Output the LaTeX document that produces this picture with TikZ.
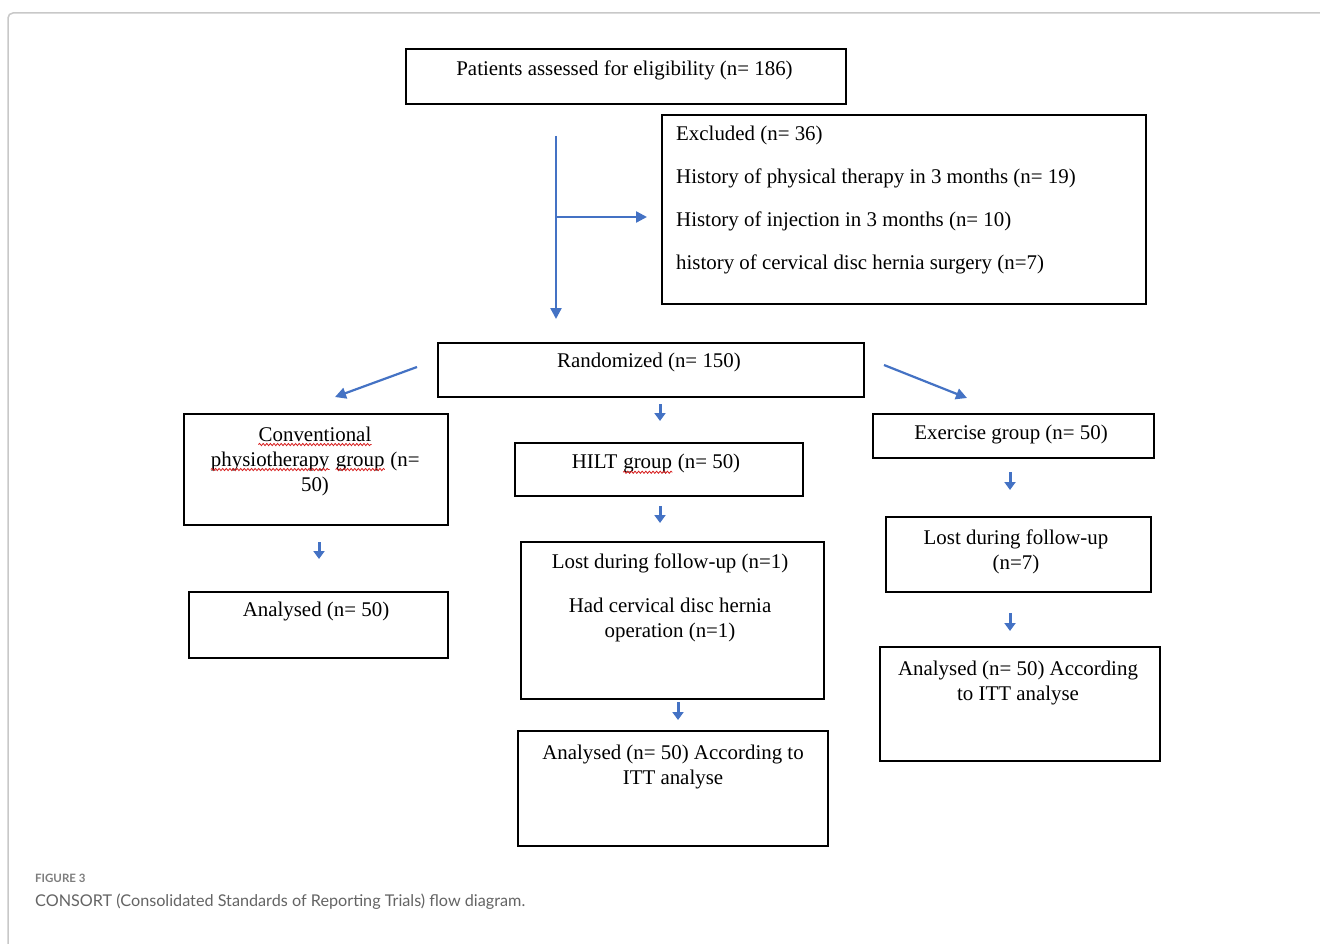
\documentclass[tikz,border=0pt]{standalone}
\usepackage{fontspec}
\setmainfont{Liberation Serif}
\newfontfamily\capfont{Lato}
\usetikzlibrary{arrows.meta,decorations.pathmorphing}
\definecolor{arrowblue}{RGB}{68,114,196}
\definecolor{framegray}{RGB}{200,200,200}
\definecolor{capgray}{RGB}{100,100,100}
\definecolor{figgray}{RGB}{125,125,125}
\definecolor{wavered}{RGB}{215,30,30}
\newcommand\redwave[1]{\tikz[baseline=0pt,x=1pt,y=1pt]{\node[inner sep=0pt,anchor=base west] (rwnode) at (0,0) {#1};
\draw[wavered, line width=0.8pt, decorate, decoration={snake, amplitude=1.1pt, segment length=3.6pt}] ([yshift=-3.5pt]rwnode.base west) -- ([yshift=-3.5pt]rwnode.base east);}}
\begin{document}
\begin{tikzpicture}[x=1pt,y=-1pt,
  box/.style={draw=black, line width=1.7pt, anchor=north west, inner sep=0pt},
  txt/.style={font=\fontsize{20.9}{25}\selectfont, inner sep=0pt, align=center},
  flow/.style={draw=arrowblue, line width=2.4pt, -{Triangle[length=11pt,width=11pt]}},
  tiny/.style={draw=arrowblue, line width=3pt, -{Triangle[length=8pt,width=11pt]}},
]
\useasboundingbox (0,0) rectangle (1320,944);
\fill[white] (0,0) rectangle (1320,944);
\draw[framegray, line width=1.5pt, rounded corners=5pt] (8,960) -- (8,13) -- (1330,13);

% boxes
\node[box, minimum width=440pt, minimum height=55pt] (p) at (405,48) {};
\node[box, minimum width=484pt, minimum height=189pt] (ex) at (661,114) {};
\node[box, minimum width=426pt, minimum height=54pt] (r) at (437,342) {};
\node[box, minimum width=264pt, minimum height=111pt] (cv) at (183,413) {};
\node[box, minimum width=259pt, minimum height=66pt] (al) at (188,591) {};
\node[box, minimum width=288pt, minimum height=53pt] (hg) at (514,442) {};
\node[box, minimum width=303pt, minimum height=157pt] (hl) at (520,541) {};
\node[box, minimum width=310pt, minimum height=115pt] (ac) at (517,730) {};
\node[box, minimum width=281pt, minimum height=44pt] (eg) at (872,413) {};
\node[box, minimum width=265pt, minimum height=75pt] (el) at (885,516) {};
\node[box, minimum width=280pt, minimum height=114pt] (ar) at (879,646) {};

% texts
\node[txt] (pt) at (624.5,70) {Patients assessed for eligibility (n= 186)};
\node[txt, anchor=west, align=left] (ext) at (676,200) {Excluded (n= 36)\\[18pt]
History of physical therapy in 3 months (n= 19)\\[18pt]
History of injection in 3 months (n= 10)\\[18pt]
history of cervical disc hernia surgery (n=7)};
\node[txt] (rt) at (649,362) {Randomized (n= 150)};
\node[txt] (cvt) at (315,461) {\redwave{Conventional}\\\redwave{physiotherapy} \redwave{group} (n=\\50)};
\node[txt] (alt) at (316,612) {Analysed (n= 50)};
\node[txt] (hgt) at (656,464) {HILT \redwave{group} (n= 50)};
\node[txt] (hlt) at (670,597.5) {Lost during follow-up (n=1)\\[19pt]Had cervical disc hernia\\operation (n=1)};
\node[txt] (act) at (673,766.5) {Analysed (n= 50) According to\\ITT analyse};
\node[txt] (egt) at (1011,435) {Exercise group (n= 50)};
\node[txt] (elt) at (1016,551.5) {Lost during follow-up\\(n=7)};
\node[txt] (art) at (1018,682.5) {Analysed (n= 50) According\\to ITT analyse};

% arrows
\coordinate (m1) at (556,136);
\coordinate (m2) at (556,319);
\coordinate (mb) at (556,217);
\coordinate (mbe) at (647,217);
\draw[flow] (m1) -- (m2);
\draw[flow] (mb) -- (mbe);

\coordinate (dl1) at (417,367);
\coordinate (dl2) at (335,397);
\coordinate (dr1) at (884,365);
\coordinate (dr2) at (967,398);
\draw[flow, line width=2.2pt] (dl1) -- (dl2);
\draw[flow, line width=2.2pt] (dr1) -- (dr2);

\coordinate (c1) at (660,404);
\coordinate (c2) at (660,421);
\draw[tiny] (c1) -- (c2);
\coordinate (l1) at (319,542);
\coordinate (l2) at (319,559);
\draw[tiny] (l1) -- (l2);
\coordinate (h1) at (660,506);
\coordinate (h2) at (660,523);
\draw[tiny] (h1) -- (h2);
\coordinate (h3) at (678,702);
\coordinate (h4) at (678,720);
\draw[tiny] (h3) -- (h4);
\coordinate (e1) at (1010,472);
\coordinate (e2) at (1010,490);
\draw[tiny] (e1) -- (e2);
\coordinate (e3) at (1010,613);
\coordinate (e4) at (1010,631);
\draw[tiny] (e3) -- (e4);

% caption
\node[anchor=west, inner sep=0pt, text=figgray, font=\capfont\bfseries\fontsize{11.5}{14}\selectfont] (fig) at (35,878) {FIGURE 3};
\node[anchor=west, inner sep=0pt, text=capgray, font=\capfont\fontsize{16.2}{20}\selectfont] (cap) at (35,902) {CONSORT (Consolidated Standards of Reporting Trials) flow diagram.};
\end{tikzpicture}
\end{document}
